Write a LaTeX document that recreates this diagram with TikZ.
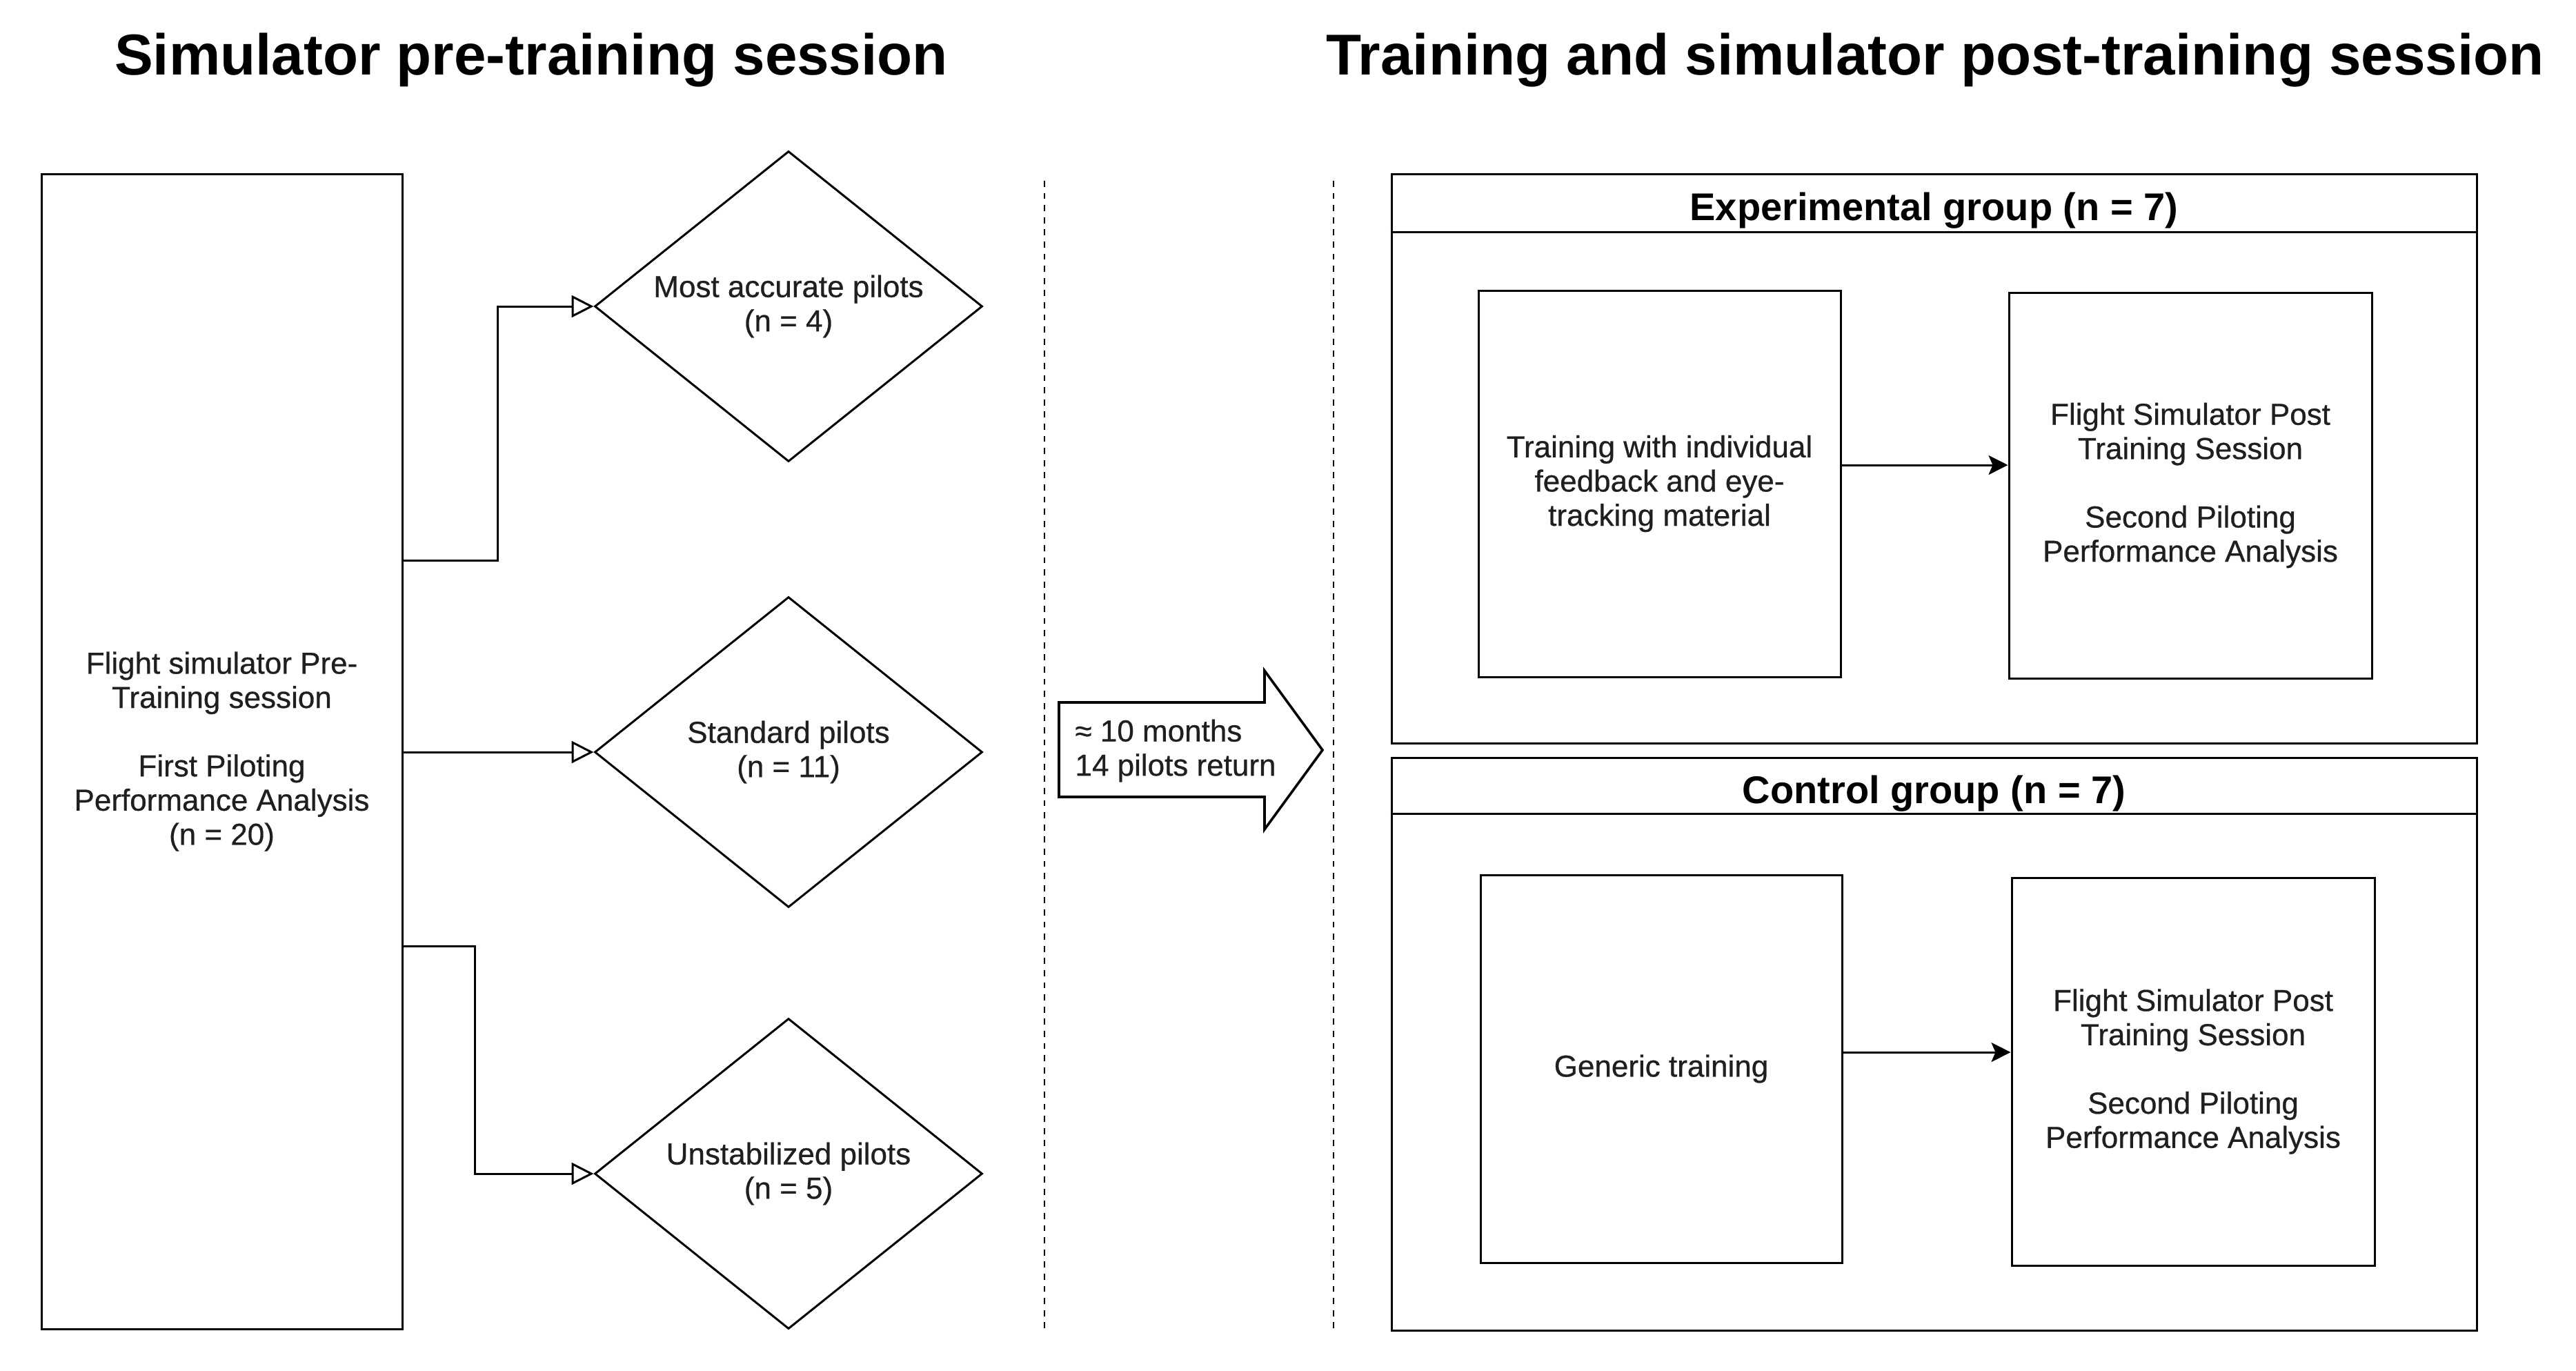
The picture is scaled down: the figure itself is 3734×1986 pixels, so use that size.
\documentclass[tikz,border=0pt]{standalone}
\usepackage{fontspec}
\setmainfont{Liberation Sans}
\newfontfamily\bodyfont{Liberation Sans}[FakeBold=0.6]
\usetikzlibrary{shapes.geometric,arrows.meta}
\begin{document}
\begin{tikzpicture}[x=0.25pt,y=-0.25pt,
  line width=0.75pt,
  body/.style={font=\bodyfont\fontsize{11}{12.4}\selectfont, align=center, text=black!88},
  box/.style={draw, rectangle, inner sep=0pt, body},
  dia/.style={draw, diamond, shape aspect=1.25, inner sep=0pt, minimum width=140.5pt, minimum height=112.5pt, body},
  openarr/.style={-{Triangle[fill=white, length=8pt, width=8pt]}},
  solidarr/.style={-{Stealth[length=7pt, width=7pt, inset=1.5pt]}},
  ttl/.style={font=\fontsize{20.9}{24}\selectfont\bfseries, inner sep=0pt, anchor=base},
  hdr/.style={font=\fontsize{14}{17}\selectfont\bfseries, inner sep=0pt},
  sep/.style={dash pattern=on 2.2pt off 2.2pt, line width=0.7pt},
]
\useasboundingbox (0,0) rectangle (3734,1986);

% titles
\node[ttl] (t1) at (770,108) {Simulator pre-training session};
\node[ttl] (t2) at (2805,108) {Training and simulator post-training session};

% left part
\node[box, minimum width=130.75pt, minimum height=418.5pt] (pre) at (321.5,1089)
  {Flight simulator Pre-\\Training session\\[12.4pt]First Piloting\\Performance Analysis\\(n = 20)};
\node[dia] (d1) at (1143,444) {Most accurate pilots\\(n = 4)};
\node[dia] (d2) at (1143,1090) {Standard pilots\\(n = 11)};
\node[dia] (d3) at (1143,1701) {Unstabilized pilots\\(n = 5)};

\coordinate (c1) at (721,812);
\coordinate (c3) at (688,1371);
\draw[openarr] (pre.east |- c1) -- (c1) |- (d1.west);
\draw[openarr] (pre.east |- d2.west) -- (d2.west);
\draw[openarr] (pre.east |- c3) -- (c3) |- (d3.west);

% separators
\draw[sep] (1514,262) -- (1514,1926);
\draw[sep] (1933,262) -- (1933,1926);

% big arrow
\draw[line width=0.9pt, line join=miter] (1535,1018) -- (1833,1018) -- (1833,972) -- (1917,1087)
  -- (1833,1202) -- (1833,1155) -- (1535,1155) -- cycle;
\node[body, align=left, anchor=west, inner sep=0pt] (gap) at (1557,1088)
  {≈ 10 months\\14 pilots return};

% experimental group
\node[draw, rectangle, inner sep=0pt, minimum width=393.25pt, minimum height=206.25pt] (exp) at (2803.5,664.5) {};
\coordinate (h1) at (2803.5,336);
\draw (exp.west |- h1) -- (exp.east |- h1);
\node[hdr] (exph) at (2803.5,305) {Experimental group (n = 7)};
\node[box, minimum width=131.25pt, minimum height=140pt] (e1) at (2405.5,701)
  {Training with individual\\feedback and eye-\\tracking material};
\node[box, minimum width=131.5pt, minimum height=139.75pt] (e2) at (3175,703.5)
  {Flight Simulator Post\\Training Session\\[12.4pt]Second Piloting\\Performance Analysis};
\coordinate (a1) at (2700,674);
\draw[solidarr] (e1.east |- a1) -- (e2.west |- a1);

% control group
\node[draw, rectangle, inner sep=0pt, minimum width=393.25pt, minimum height=207.5pt] (ctl) at (2803.5,1513) {};
\coordinate (h2) at (2803.5,1179);
\draw (ctl.west |- h2) -- (ctl.east |- h2);
\node[hdr] (ctlh) at (2803.5,1150) {Control group (n = 7)};
\node[box, minimum width=131pt, minimum height=140.5pt] (g1) at (2408,1549)
  {Generic training};
\node[box, minimum width=131.5pt, minimum height=140.5pt] (g2) at (3179,1553)
  {Flight Simulator Post\\Training Session\\[12.4pt]Second Piloting\\Performance Analysis};
\coordinate (a2) at (2700,1525);
\draw[solidarr] (g1.east |- a2) -- (g2.west |- a2);
\end{tikzpicture}
\end{document}
